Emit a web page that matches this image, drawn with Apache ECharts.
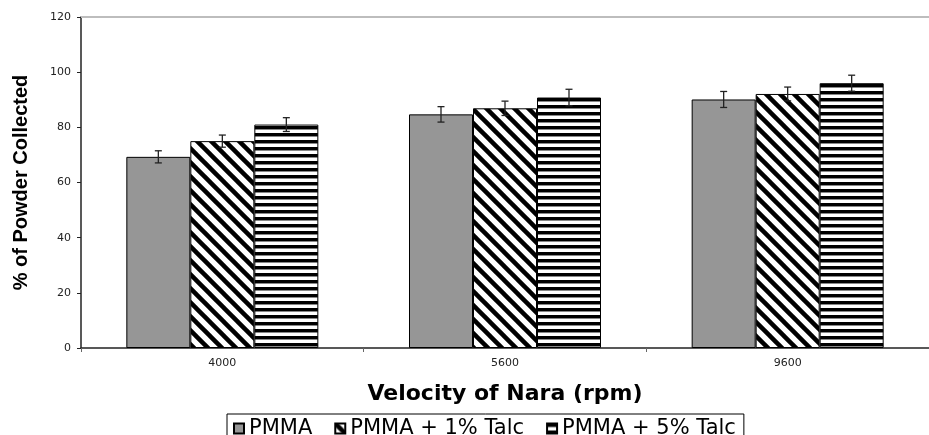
<!DOCTYPE html>
<html>
<head>
<meta charset="utf-8">
<script src="https://cdn.jsdelivr.net/npm/echarts@6/dist/echarts.min.js"></script>
<style>
html,body{margin:0;padding:0;background:#fff;}
#chart{width:929px;height:435px;}
</style>
</head>
<body>
<div id="chart"></div>
<script>
// ---- data ----
var categories = ['4000', '5600', '9600'];
var seriesNames = ['PMMA', 'PMMA + 1% Talc', 'PMMA + 5% Talc'];
var pmma = [69.3, 84.7, 90.1];
var pmmaErr = [2.2, 2.8, 2.9];
var talc1 = [75.0, 86.9, 92.1];
var talc1Err = [2.2, 2.6, 2.5];
var talc5 = [81.0, 90.8, 96.0];
var talc5Err = [2.5, 3.0, 2.9];
var yTicks = [0, 20, 40, 60, 80, 100, 120];

// ---- patterns ----
function diagPattern() {
  var s = 14;
  var c = document.createElement('canvas');
  c.width = s; c.height = s;
  var g = c.getContext('2d');
  g.fillStyle = '#fff'; g.fillRect(0, 0, s, s);
  g.strokeStyle = '#000'; g.lineWidth = 4.5;
  for (var k = -1; k <= 1; k++) {
    g.beginPath();
    g.moveTo(k * s - 2, -2);
    g.lineTo(k * s + s + 2, s + 2);
    g.stroke();
  }
  return c;
}
function horizPattern() {
  var c = document.createElement('canvas');
  c.width = 8; c.height = 7;
  var g = c.getContext('2d');
  g.fillStyle = '#fff'; g.fillRect(0, 0, 8, 7);
  g.fillStyle = '#000'; g.fillRect(0, 0, 8, 3);
  g.fillStyle = '#888'; g.fillRect(0, 3, 8, 1);
  return c;
}

var fills = [
  '#969696',
  { image: diagPattern(), repeat: 'repeat' },
  { image: horizPattern(), repeat: 'repeat' }
];
var values = [pmma, talc1, talc5];
var errors = [pmmaErr, talc1Err, talc5Err];
var barW = 64;
var offsets = [-barW, 0, barW];

var series = [];
for (var i = 0; i < 3; i++) {
  var s = {
    name: seriesNames[i],
    type: 'bar',
    data: values[i],
    barWidth: barW,
    barGap: '0%',
    itemStyle: { color: fills[i], borderColor: '#000', borderWidth: 1 },
    emphasis: { disabled: true },
    animation: false
  };
  if (i === 0) {
    s.markLine = {
      silent: true, symbol: 'none', animation: false,
      label: { show: false },
      lineStyle: { color: '#bdbdbd', width: 2, type: 'solid' },
      data: [{ yAxis: 120 }]
    };
  }
  series.push(s);
}
// error bars
for (var j = 0; j < 3; j++) {
  (function (j) {
    var d = values[j].map(function (v, k) { return [k, v, errors[j][k]]; });
    series.push({
      name: 'err' + j,
      type: 'custom',
      data: d,
      z: 5,
      animation: false,
      renderItem: function (params, api) {
        var cat = api.value(0), v = api.value(1), e = api.value(2);
        var top = api.coord([cat, v + e]);
        var bot = api.coord([cat, v - e]);
        var x = top[0] + offsets[j];
        var hw = 3.5;
        var st = { stroke: '#222', lineWidth: 1.3 };
        return {
          type: 'group',
          children: [
            { type: 'line', shape: { x1: x, y1: top[1], x2: x, y2: bot[1] }, style: st },
            { type: 'line', shape: { x1: x - hw, y1: top[1], x2: x + hw, y2: top[1] }, style: st },
            { type: 'line', shape: { x1: x - hw, y1: bot[1], x2: x + hw, y2: bot[1] }, style: st }
          ]
        };
      }
    });
  })(j);
}

var chart = echarts.init(document.getElementById('chart'));
chart.setOption({
  backgroundColor: '#fff',
  animation: false,
  grid: { left: 81, top: 17, width: 861, height: 331 },
  legend: {
    data: seriesNames,
    left: 227, top: 414,
    itemWidth: 10, itemHeight: 10, itemGap: 22,
    padding: [4, 8, 6, 6],
    borderColor: '#000', borderWidth: 1,
    icon: 'rect',
    textStyle: { fontFamily: 'DejaVu Sans', fontSize: 21, color: '#000' }
  },
  xAxis: {
    type: 'category',
    data: categories,
    name: 'Velocity of Nara (rpm)',
    nameLocation: 'middle',
    nameGap: 35,
    nameTextStyle: { fontFamily: 'DejaVu Sans', fontWeight: 'bold', fontSize: 22, color: '#000' },
    axisLine: { lineStyle: { color: '#222', width: 1.5 } },
    axisTick: { show: true, alignWithLabel: false, length: 4, lineStyle: { color: '#666' } },
    axisLabel: { margin: 10, fontFamily: 'DejaVu Sans', fontSize: 11, color: '#222' },
    splitLine: { show: false }
  },
  yAxis: {
    type: 'value',
    min: yTicks[0], max: yTicks[yTicks.length - 1], interval: yTicks[1] - yTicks[0],
    name: '% of Powder Collected',
    nameLocation: 'middle',
    nameRotate: 90,
    nameGap: 50,
    nameTextStyle: { fontFamily: 'Liberation Sans', fontWeight: 'bold', fontSize: 20, color: '#000' },
    axisLine: { show: true, lineStyle: { color: '#222', width: 1.5 } },
    axisTick: { show: true, length: 4, lineStyle: { color: '#222' } },
    axisLabel: { margin: 10, fontFamily: 'DejaVu Sans', fontSize: 11, color: '#222' },
    splitLine: { show: false }
  },
  series: series
});
</script>
</body>
</html>
